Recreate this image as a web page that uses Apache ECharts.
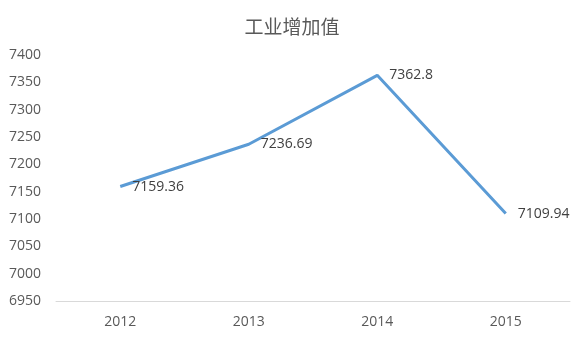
<!DOCTYPE html>
<html>
<head>
<meta charset="utf-8">
<script src="https://cdn.jsdelivr.net/npm/echarts@6/dist/echarts.min.js"></script>
<style>html,body{margin:0;padding:0;background:#fff}#c{width:584px;height:340px}</style>
</head>
<body>
<div id="c"></div>
<script>
var categories = ['2012', '2013', '2014', '2015'];
var values = [7159.36, 7236.69, 7362.8, 7109.94];
var yMin = 6950, yMax = 7400, yStep = 50;
var titleText = '工业增加值';

var chart = echarts.init(document.getElementById('c'), null, {renderer: 'canvas'});
chart.setOption({
  animation: false,
  backgroundColor: '#ffffff',
  title: {
    text: titleText,
    left: 'center',
    top: 12,
    textStyle: {fontFamily: 'Noto Sans CJK SC', fontSize: 19, fontWeight: 'normal', color: '#595959'}
  },
  grid: {left: 56, right: 14, top: 55, bottom: 39, containLabel: false},
  xAxis: {
    type: 'category',
    data: categories,
    boundaryGap: true,
    axisLine: {lineStyle: {color: '#D9D9D9', width: 1}},
    axisTick: {show: false},
    axisLabel: {fontFamily: 'Open Sans', fontSize: 14, color: '#595959', margin: 14}
  },
  yAxis: {
    type: 'value',
    min: yMin, max: yMax, interval: yStep,
    axisLine: {show: false},
    axisTick: {show: false},
    splitLine: {show: false},
    axisLabel: {fontFamily: 'Open Sans', fontSize: 14, color: '#595959', align: 'left', margin: 47,
      formatter: function (v) { return String(v); }}
  },
  series: [{
    type: 'line',
    data: values,
    showSymbol: true,
    symbol: 'circle',
    symbolSize: 4,
    lineStyle: {color: '#5B9BD5', width: 3},
    itemStyle: {color: 'rgba(0,0,0,0)', borderWidth: 0},
    label: {
      show: true,
      position: 'right',
      distance: 10,
      fontFamily: 'Open Sans',
      fontSize: 14,
      color: '#404040'
    }
  }]
});
</script>
</body>
</html>
